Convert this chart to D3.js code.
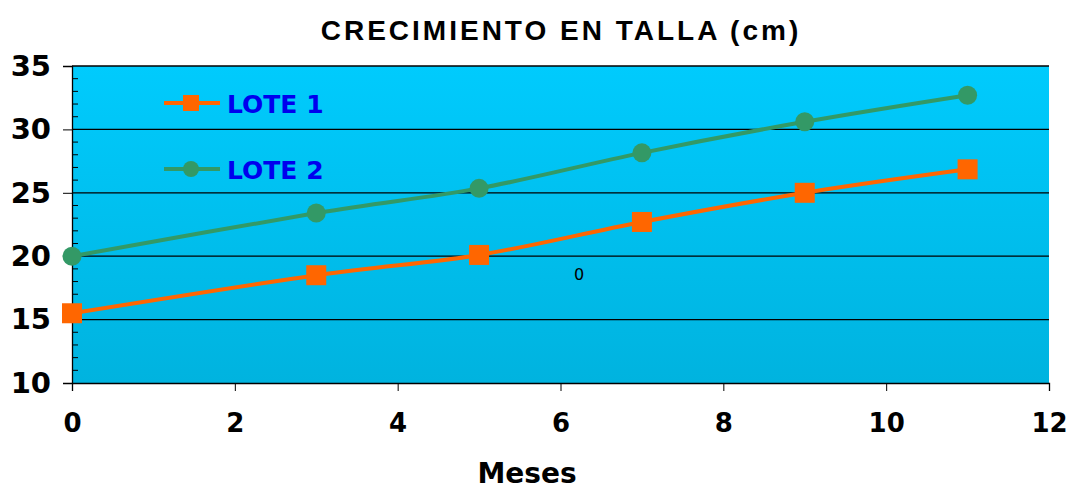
<!DOCTYPE html>
<html><head><meta charset="utf-8">
<script src="https://cdn.jsdelivr.net/npm/d3@7"></script>
<style>body{margin:0;background:#fff}svg{display:block}</style>
</head><body>
<svg id="c" width="1071" height="487"></svg>
<script>
const months = [0, 3, 5, 7, 9, 11];
const lote1 = [15.5, 18.5, 20.1, 22.7, 25.0, 26.85];
const lote2 = [20.0, 23.4, 25.35, 28.15, 30.6, 32.7];
const seriesNames = ["LOTE 1", "LOTE 2"];
const xTicks = [0, 2, 4, 6, 8, 10, 12];
const yTicks = [10, 15, 20, 25, 30, 35];
const title = "CRECIMIENTO EN TALLA (cm)";
const xTitle = "Meses";

const svg = d3.select("#c");
const L = 72, R = 1049, T = 66, B = 383;
const x = d3.scaleLinear().domain([0, 12]).range([L, R]);
const y = d3.scaleLinear().domain([10, 35]).range([B, T]);

const defs = svg.append("defs");
const g = defs.append("linearGradient").attr("id", "bg").attr("x1", 0).attr("y1", 0).attr("x2", 0).attr("y2", 1);
g.append("stop").attr("offset", "0%").attr("stop-color", "#00cbfd");
g.append("stop").attr("offset", "100%").attr("stop-color", "#00b3df");
svg.append("rect").attr("x", L).attr("y", T).attr("width", R - L).attr("height", B - T).attr("fill", "url(#bg)");

// gridlines
svg.append("g").selectAll("line").data(yTicks.filter(d => d > 10)).join("line")
  .attr("x1", L).attr("x2", R).attr("y1", d => y(d)).attr("y2", d => y(d))
  .attr("stroke", "#000").attr("stroke-width", 1.3);

// Y axis
const yAx = svg.append("g").attr("transform", `translate(${L},0)`)
  .call(d3.axisLeft(y).tickValues(yTicks).tickSize(9).tickPadding(12));
yAx.selectAll("text").attr("font-family", "'DejaVu Sans', sans-serif").attr("font-weight", "bold").attr("font-size", 29).attr("fill", "#000");
yAx.select(".domain").attr("stroke", "#000").attr("stroke-width", 1.3);
// minor ticks
svg.append("g").selectAll("line").data(d3.range(11, 35).filter(d => d % 5 !== 0)).join("line")
  .attr("x1", L).attr("x2", L + 6).attr("y1", d => y(d)).attr("y2", d => y(d))
  .attr("stroke", "#000").attr("stroke-width", 1);

// X axis
const xAx = svg.append("g").attr("transform", `translate(0,${B})`)
  .call(d3.axisBottom(x).tickValues(xTicks).tickSize(8).tickPadding(23));
xAx.selectAll("text").attr("font-family", "'DejaVu Sans', sans-serif").attr("font-weight", "bold").attr("font-size", 26).attr("fill", "#000");
xAx.select(".domain").attr("stroke", "#000").attr("stroke-width", 1.3);

// series
const data1 = months.map((m, i) => [m, lote1[i]]);
const data2 = months.map((m, i) => [m, lote2[i]]);
const line = d3.line().x(d => x(d[0])).y(d => y(d[1])).curve(d3.curveCatmullRom.alpha(0));
svg.append("path").datum(data2).attr("d", line).attr("fill", "none").attr("stroke", "#339966").attr("stroke-width", 4);
svg.append("path").datum(data1).attr("d", line).attr("fill", "none").attr("stroke", "#ff6600").attr("stroke-width", 4);
svg.append("g").selectAll("circle").data(data2).join("circle")
  .attr("cx", d => x(d[0])).attr("cy", d => y(d[1])).attr("r", 9.5).attr("fill", "#339966");
svg.append("g").selectAll("rect").data(data1).join("rect")
  .attr("x", d => x(d[0]) - 10).attr("y", d => y(d[1]) - 10).attr("width", 20).attr("height", 20).attr("fill", "#ff6600");

// legend
const lg = svg.append("g");
lg.append("line").attr("x1", 164).attr("x2", 220).attr("y1", 103).attr("y2", 103).attr("stroke", "#ff6600").attr("stroke-width", 4);
lg.append("rect").attr("x", 183).attr("y", 95).attr("width", 16).attr("height", 16).attr("fill", "#ff6600");
lg.append("line").attr("x1", 164).attr("x2", 220).attr("y1", 169).attr("y2", 169).attr("stroke", "#339966").attr("stroke-width", 4);
lg.append("circle").attr("cx", 191).attr("cy", 169).attr("r", 8).attr("fill", "#339966");
lg.selectAll("text").data(seriesNames).join("text")
  .attr("x", 227).attr("y", (d, i) => 104 + i * 66).attr("dy", "0.36em")
  .attr("font-family", "'DejaVu Sans', sans-serif").attr("font-weight", "bold").attr("font-size", 25)
  .attr("fill", "#0000ee").text(d => d);

// stray label
svg.append("text").attr("x", 579).attr("y", 274).attr("dy", "0.35em").attr("text-anchor", "middle")
  .attr("font-family", "'DejaVu Sans', sans-serif").attr("font-size", 16).attr("fill", "#000").text("0");

// titles
svg.append("text").attr("x", 561).attr("y", 40).attr("text-anchor", "middle")
  .attr("font-family", "'Liberation Sans', Arial, sans-serif").attr("font-weight", "bold").attr("font-size", 28)
  .attr("letter-spacing", 3).attr("fill", "#000").text(title);
svg.append("text").attr("x", 527).attr("y", 483).attr("text-anchor", "middle")
  .attr("font-family", "'DejaVu Sans', sans-serif").attr("font-weight", "bold").attr("font-size", 28)
  .attr("fill", "#000").text(xTitle);
</script>
</body></html>
